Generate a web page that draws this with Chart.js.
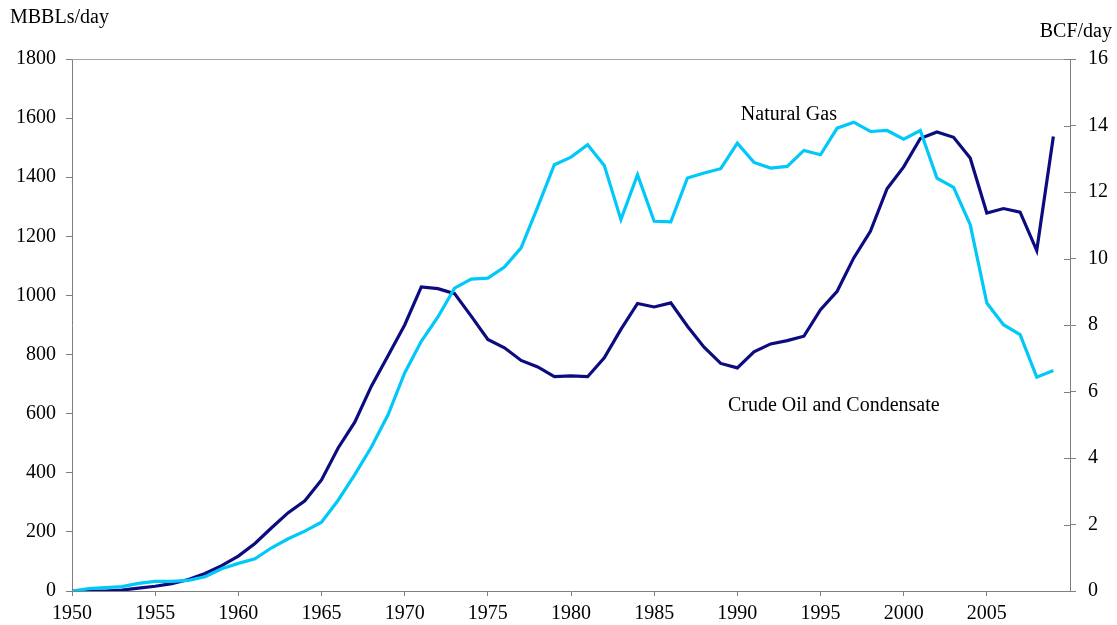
<!DOCTYPE html>
<html>
<head>
<meta charset="utf-8">
<script src="https://cdn.jsdelivr.net/npm/chart.js@4.4.1/dist/chart.umd.min.js"></script>
<style>
  body { margin: 0; background: #fff; }
  #wrap { width: 1117px; height: 625px; }
</style>
</head>
<body>
<div id="wrap"><canvas id="prodChart" width="1117" height="625"></canvas></div>
<script>
// Production chart: crude oil (MBBLs/day, left) and natural gas (BCF/day, right)
const years = [
  1950, 1951, 1952, 1953, 1954, 1955, 1956, 1957, 1958, 1959,
  1960, 1961, 1962, 1963, 1964, 1965, 1966, 1967, 1968, 1969,
  1970, 1971, 1972, 1973, 1974, 1975, 1976, 1977, 1978, 1979,
  1980, 1981, 1982, 1983, 1984, 1985, 1986, 1987, 1988, 1989,
  1990, 1991, 1992, 1993, 1994, 1995, 1996, 1997, 1998, 1999,
  2000, 2001, 2002, 2003, 2004, 2005, 2006, 2007, 2008, 2009
];

// MBBLs/day
const crudeOil = [
  0, 0, 0, 3, 10, 16, 25, 39, 59, 86,
  118, 161, 214, 265, 305, 376, 484, 571, 693, 796,
  900, 1029, 1023, 1006, 930, 851, 823, 780, 758, 725,
  728, 725, 789, 885, 973, 961, 975, 896, 825, 770,
  755, 809, 836, 847, 862, 952, 1014, 1127, 1217, 1361,
  1435, 1531, 1553, 1535, 1465, 1279, 1294, 1282, 1152, 1538
];

// BCF/day
const naturalGas = [
  0, 0.07, 0.1, 0.13, 0.23, 0.29, 0.29, 0.32, 0.43, 0.67,
  0.83, 0.97, 1.3, 1.57, 1.8, 2.07, 2.73, 3.5, 4.33, 5.3,
  6.56, 7.51, 8.24, 9.11, 9.38, 9.41, 9.74, 10.32, 11.55, 12.82,
  13.05, 13.42, 12.8, 11.17, 12.52, 11.12, 11.1, 12.42, 12.57, 12.7,
  13.47, 12.89, 12.72, 12.77, 13.25, 13.12, 13.92, 14.1, 13.82, 13.85,
  13.59, 13.85, 12.42, 12.14, 11.02, 8.66, 8.01, 7.71, 6.43, 6.63
];

const leftTicks = [0, 200, 400, 600, 800, 1000, 1200, 1400, 1600, 1800];
const rightTicks = [0, 2, 4, 6, 8, 10, 12, 14, 16];
const xTicks = [1950, 1955, 1960, 1965, 1970, 1975, 1980, 1985, 1990, 1995, 2000, 2005];

const FONT = "'Liberation Serif', 'Times New Roman', serif";
const AXIS_COLOR = "#7f7f7f";

const toPoints = (vals) => years.map((yr, i) => ({ x: yr, y: vals[i] }));

// Frame, axis titles and series labels
const extrasPlugin = {
  id: "extras",
  afterDraw(chart) {
    const { ctx, chartArea, scales } = chart;
    ctx.save();

    // top border line
    ctx.strokeStyle = "#a6a6a6";
    ctx.lineWidth = 1;
    ctx.beginPath();
    ctx.moveTo(chartArea.left, chartArea.top + 0.5);
    ctx.lineTo(chartArea.right, chartArea.top + 0.5);
    ctx.stroke();

    // inner part of right axis ticks (they cross the axis)
    ctx.strokeStyle = AXIS_COLOR;
    ctx.beginPath();
    rightTicks.forEach((t) => {
      const py = Math.round(scales.y2.getPixelForValue(t)) + 0.5;
      ctx.moveTo(chartArea.right - 6, py);
      ctx.lineTo(chartArea.right, py);
    });
    ctx.stroke();

    ctx.fillStyle = "#000";
    ctx.font = "20px " + FONT;
    ctx.textBaseline = "middle";
    ctx.textAlign = "left";
    ctx.fillText("MBBLs/day", 10, 18);
    ctx.textAlign = "right";
    ctx.fillText("BCF/day", 1112, 32);

    ctx.textAlign = "center";
    ctx.fillText("Natural Gas", scales.x.getPixelForValue(1993.1), scales.y.getPixelForValue(1612));
    ctx.fillText("Crude Oil and Condensate", scales.x.getPixelForValue(1995.8), scales.y.getPixelForValue(627));
    ctx.restore();
  },
};

const ctx = document.getElementById("prodChart").getContext("2d");

new Chart(ctx, {
  type: "line",
  data: {
    datasets: [
      {
        label: "Natural Gas",
        data: toPoints(naturalGas),
        yAxisID: "y2",
        borderColor: "#00c8f8",
        borderWidth: 3.2,
        pointRadius: 0,
        tension: 0,
      },
      {
        label: "Crude Oil and Condensate",
        data: toPoints(crudeOil),
        yAxisID: "y",
        borderColor: "#0c0c80",
        borderWidth: 3.2,
        pointRadius: 0,
        tension: 0,
      },
    ],
  },
  options: {
    responsive: false,
    animation: false,
    layout: { padding: { top: 59, left: 0, right: 0, bottom: 0 } },
    plugins: {
      legend: { display: false },
      tooltip: { enabled: false },
    },
    scales: {
      x: {
        type: "linear",
        min: 1950,
        max: 2010,
        afterFit: (scale) => { scale.height = 34; },
        afterBuildTicks: (scale) => {
          scale.ticks = xTicks.map((v) => ({ value: v }));
        },
        border: { color: AXIS_COLOR, width: 1 },
        grid: { drawOnChartArea: false, drawTicks: true, tickLength: 5, color: AXIS_COLOR },
        ticks: {
          color: "#000",
          font: { family: FONT, size: 20 },
          padding: 6,
          maxRotation: 0,
          autoSkip: false,
          callback: (v) => String(v),
        },
      },
      y: {
        position: "left",
        min: 0,
        max: 1800,
        afterFit: (scale) => { scale.width = 72; },
        afterBuildTicks: (scale) => {
          scale.ticks = leftTicks.map((v) => ({ value: v }));
        },
        border: { color: AXIS_COLOR, width: 1 },
        grid: { drawOnChartArea: false, drawTicks: true, tickLength: 6, color: AXIS_COLOR },
        ticks: {
          color: "#000",
          font: { family: FONT, size: 20 },
          padding: 10,
          callback: (v) => String(v),
        },
      },
      y2: {
        position: "right",
        min: 0,
        max: 16,
        afterFit: (scale) => { scale.width = 47; },
        afterBuildTicks: (scale) => {
          scale.ticks = rightTicks.map((v) => ({ value: v }));
        },
        border: { color: AXIS_COLOR, width: 1 },
        grid: { drawOnChartArea: false, drawTicks: true, tickLength: 6, color: AXIS_COLOR },
        ticks: {
          color: "#000",
          font: { family: FONT, size: 20 },
          padding: 12,
          callback: (v) => String(v),
        },
      },
    },
  },
  plugins: [extrasPlugin],
});
</script>
</body>
</html>
